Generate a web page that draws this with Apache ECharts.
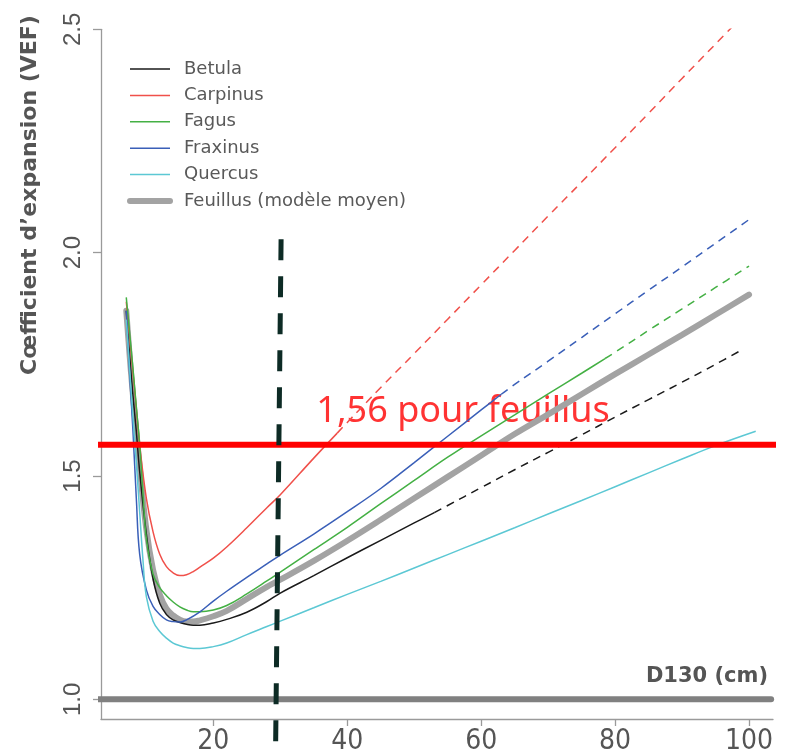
<!DOCTYPE html>
<html>
<head>
<meta charset="utf-8">
<title>VEF feuillus</title>
<script src="https://cdn.jsdelivr.net/npm/echarts@6/dist/echarts.min.js"></script>
<style>
  html, body { margin: 0; padding: 0; background: #fff; }
  #chart { width: 799px; height: 754px; }
</style>
</head>
<body>
<div id="chart"></div>
<script>
// axes
var d130Ticks = [20, 40, 60, 80, 100];
var vefTicks = [1.0, 1.5, 2.0, 2.5];
var vefTickLabels = ['1.0', '1.5', '2.0', '2.5'];

// courbes : [D130, VEF]
var betulaSolid = [[7,1.87],[7.5,1.77],[8,1.68],[8.5,1.6],[9,1.51],[10,1.37],[11,1.27],[12,1.215],[13,1.19],[14,1.178],[15,1.172],[16,1.168],[17,1.166],[18,1.166],[20,1.171],[22,1.179],[25,1.195],[28,1.219],[30,1.238],[35,1.277],[40,1.317],[45,1.356],[50,1.395],[53,1.418]];
var betulaDashed = [[53,1.418],[55,1.434],[60,1.474],[65,1.514],[70,1.553],[75,1.592],[80,1.632],[85,1.671],[90,1.71],[95,1.75],[99,1.783]];

var carpinusSolid = [[7,1.89],[7.5,1.81],[8,1.73],[8.5,1.65],[9,1.57],[10,1.45],[11,1.375],[12,1.325],[13,1.297],[14,1.283],[15,1.277],[16,1.279],[17,1.286],[18,1.296],[20,1.316],[22,1.341],[25,1.384],[28,1.429],[30,1.458],[35,1.54],[38.5,1.596]];
var carpinusDashed = [[38.5,1.596],[40,1.62],[45,1.698],[50,1.774],[55,1.851],[60,1.928],[65,2.005],[70,2.082],[75,2.158],[80,2.235],[85,2.312],[90,2.39],[95,2.467],[100,2.544]];

var fagusSolid = [[7,1.9],[7.5,1.82],[8,1.74],[8.5,1.655],[9,1.57],[9.5,1.46],[10,1.36],[11,1.28],[12,1.25],[13,1.232],[14,1.218],[15,1.207],[16,1.2],[17,1.196],[18,1.196],[20,1.2],[22,1.21],[25,1.236],[28,1.265],[30,1.285],[35,1.335],[40,1.385],[45,1.438],[50,1.49],[55,1.542],[60,1.59],[65,1.637],[70,1.684],[75,1.73],[78.5,1.763]];
var fagusDashed = [[78.5,1.763],[80,1.777],[85,1.826],[90,1.874],[95,1.922],[100,1.97]];

var fraxinusSolid = [[7,1.87],[7.5,1.73],[8,1.6],[8.5,1.45],[9,1.325],[10,1.245],[11,1.208],[12,1.19],[13,1.178],[14,1.174],[15,1.173],[16,1.178],[18,1.196],[20,1.22],[22,1.242],[25,1.273],[28,1.303],[30,1.323],[35,1.37],[40,1.42],[45,1.472],[50,1.53],[55,1.589],[60,1.648],[63,1.683]];
var fraxinusDashed = [[63,1.683],[65,1.705],[70,1.757],[75,1.81],[80,1.863],[85,1.916],[90,1.968],[95,2.021],[100,2.074]];

var quercusSolid = [[7,1.85],[7.5,1.74],[8,1.63],[8.5,1.53],[9,1.42],[9.5,1.31],[10,1.23],[11,1.175],[12,1.152],[13,1.137],[14,1.126],[15,1.12],[16,1.116],[17,1.114],[18,1.114],[20,1.118],[22,1.126],[25,1.145],[28,1.163],[30,1.175],[35,1.205],[40,1.235],[45,1.264],[50,1.294],[55,1.324],[60,1.354],[65,1.384],[70,1.415],[75,1.445],[80,1.476],[85,1.507],[90,1.538],[95,1.568],[101,1.6]];

var feuillusMean = [[7,1.87],[7.5,1.77],[8,1.68],[8.5,1.6],[9,1.52],[10,1.38],[11,1.29],[12,1.235],[13,1.203],[14,1.188],[15,1.178],[16,1.174],[17,1.174],[18,1.177],[20,1.186],[22,1.198],[25,1.225],[28,1.252],[30,1.268],[35,1.31],[40,1.355],[45,1.402],[50,1.45],[55,1.498],[60,1.546],[65,1.594],[70,1.638],[75,1.683],[80,1.728],[85,1.772],[90,1.816],[95,1.861],[100,1.906]];

// lignes de repere
var baseLine = [[2.3,1.0],[103.3,1.0]];
var feuillusLine = [[2.78,1.57],[108,1.57]];
var thresholdLine = [[30.12,2.03],[29.29,0.877]];
var noteText = '1,56 pour feuillus';
var notePoint = [[57.3,1.57]];

var names = ['Betula', 'Carpinus', 'Fagus', 'Fraxinus', 'Quercus', 'Feuillus (modèle moyen)'];

var chart = echarts.init(document.getElementById('chart'), null, { renderer: 'canvas' });

function curve(name, color, data, dashed, width) {
    return {
        name: name,
        type: 'line',
        data: data,
        symbol: 'none',
        smooth: 0.4,
        silent: true,
        lineStyle: {
            color: color,
            width: width || 1.5,
            type: dashed ? [8, 6] : 'solid',
            cap: width > 3 ? 'round' : 'butt'
        },
        itemStyle: { color: color }
    };
}

function straight(data, color, width, type, cap) {
    return {
        type: 'line',
        data: data,
        symbol: 'none',
        clip: false,
        silent: true,
        lineStyle: { color: color, width: width, type: type, cap: cap }
    };
}

var legendItems = names.map(function (n, i) {
    return {
        name: n,
        lineStyle: { width: i === 5 ? 6 : 1.5, cap: i === 5 ? 'round' : 'butt' }
    };
});

var option = {
    animation: false,
    backgroundColor: '#ffffff',
    grid: {
        left: 101,
        top: 29.3,
        right: 26,
        bottom: 35,
        containLabel: false,
        outerBoundsMode: 'none'
    },
    legend: {
        orient: 'vertical',
        left: 122,
        top: 55,
        itemWidth: 40,
        itemHeight: 14,
        itemGap: 8.4,
        selectedMode: false,
        data: legendItems,
        itemStyle: { color: 'transparent', borderColor: 'transparent', borderWidth: 0, opacity: 0 },
        textStyle: {
            fontFamily: 'DejaVu Sans',
            fontSize: 18,
            lineHeight: 18,
            color: '#595959',
            padding: [0, 0, 0, 9]
        }
    },
    xAxis: {
        type: 'value',
        min: 3.226,
        max: 103.58,
        name: 'D130 (cm)',
        nameLocation: 'end',
        nameGap: -5,
        nameTextStyle: {
            fontFamily: 'DejaVu Sans',
            fontWeight: 'bold',
            fontSize: 21,
            lineHeight: 22,
            color: '#555555',
            align: 'right',
            verticalAlign: 'bottom',
            padding: [0, 0, 31, 0]
        },
        splitLine: { show: false },
        axisLine: { show: true, onZero: false, lineStyle: { color: '#9a9a9a', width: 1.3 } },
        axisTick: { show: true, length: 7, customValues: d130Ticks, lineStyle: { color: '#9a9a9a', width: 1.3 } },
        axisLabel: {
            customValues: d130Ticks,
            margin: 9,
            fontFamily: 'Liberation Sans Narrow, DejaVu Sans Condensed, sans-serif',
            fontSize: 28,
            lineHeight: 28,
            color: '#555555'
        }
    },
    yAxis: {
        type: 'value',
        min: 0.956,
        max: 2.5,
        splitLine: { show: false },
        axisLine: { show: true, onZero: false, lineStyle: { color: '#9a9a9a', width: 1.3 } },
        axisTick: { show: true, length: 8, customValues: vefTicks, lineStyle: { color: '#9a9a9a', width: 1.3 } },
        axisLabel: {
            customValues: vefTicks,
            formatter: function (v) {
                var i = vefTicks.indexOf(v);
                return i >= 0 ? vefTickLabels[i] : '';
            },
            rotate: 90,
            margin: 16,
            fontFamily: 'Liberation Sans',
            fontSize: 24,
            lineHeight: 24,
            color: '#555555'
        }
    },
    graphic: [{
        type: 'text',
        x: 30,
        y: 195,
        rotation: Math.PI / 2,
        style: {
            text: 'Cœfficient d\u2019expansion (VEF)',
            fill: '#555555',
            font: 'bold 22px "DejaVu Sans"',
            align: 'center',
            verticalAlign: 'middle'
        }
    }],
    series: [
        straight(baseLine, '#808080', 6, 'solid', 'round'),
        curve(names[5], '#a3a3a3', feuillusMean, false, 6),
        curve(names[0], '#1a1a1a', betulaSolid, false),
        curve(names[0], '#1a1a1a', betulaDashed, true),
        curve(names[1], '#f0504a', carpinusSolid, false),
        curve(names[1], '#f0504a', carpinusDashed, true),
        curve(names[2], '#44b044', fagusSolid, false),
        curve(names[2], '#44b044', fagusDashed, true),
        curve(names[3], '#3a5fb8', fraxinusSolid, false),
        curve(names[3], '#3a5fb8', fraxinusDashed, true),
        curve(names[4], '#5cc8d4', quercusSolid, false),
        straight(feuillusLine, '#ff0000', 6, 'solid', 'butt'),
        straight(thresholdLine, '#0d2b25', 5, [21, 16], 'butt'),
        {
            type: 'scatter',
            data: notePoint,
            symbolSize: 0,
            clip: false,
            silent: true,
            label: {
                show: true,
                position: 'top',
                distance: 13,
                formatter: noteText,
                color: '#ff0000',
                fontFamily: 'Noto Sans',
                fontSize: 36,
                lineHeight: 40
            }
        }
    ]
};

chart.setOption(option);
</script>
</body>
</html>
